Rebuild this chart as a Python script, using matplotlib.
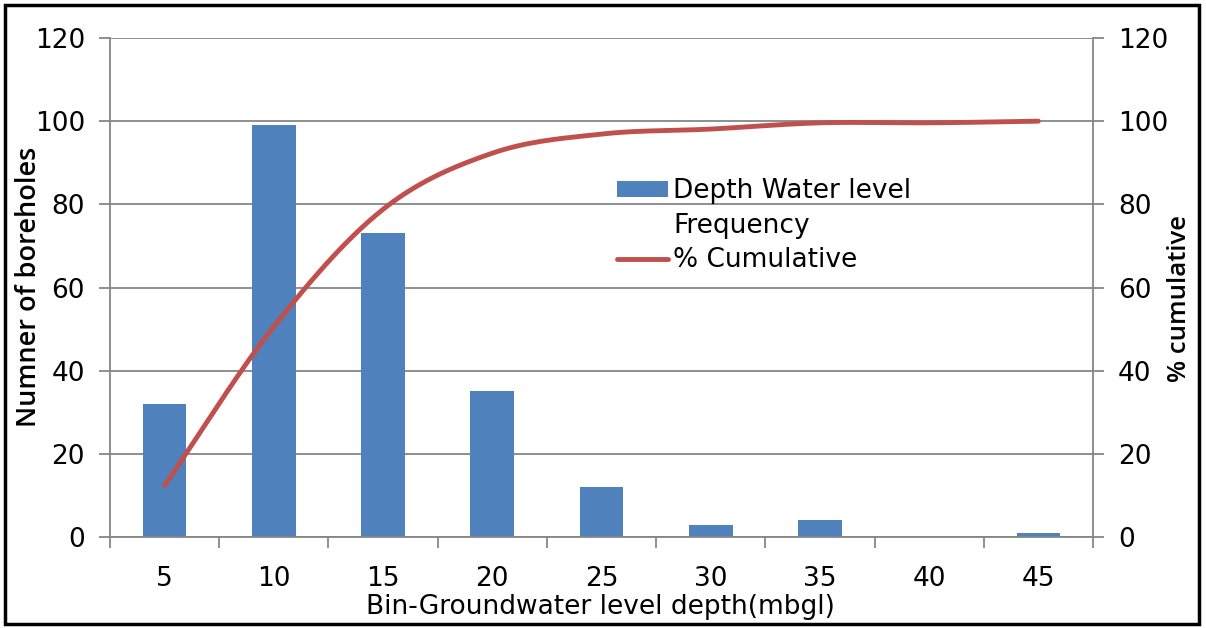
import numpy as np
import matplotlib.pyplot as plt
from matplotlib.patches import Rectangle, Patch
from matplotlib.lines import Line2D

# data
bins = ['5', '10', '15', '20', '25', '30', '35', '40', '45']
frequency = [32, 99, 73, 35, 12, 3, 4, 0, 1]
cumulative = [12.4, 50.6, 78.8, 92.3, 96.9, 98.1, 99.6, 99.6, 100.0]

bar_color = '#4F81BD'
line_color = '#C0504D'
grid_color = '#868686'


def smooth_curve(x, y, n=30):
    # catmull-rom style smoothing through every point
    x = np.asarray(x, float)
    y = np.asarray(y, float)
    px = np.concatenate([[2 * x[0] - x[1]], x, [2 * x[-1] - x[-2]]])
    py = np.concatenate([[2 * y[0] - y[1]], y, [2 * y[-1] - y[-2]]])
    xs, ys = [], []
    for i in range(1, len(px) - 2):
        t = np.linspace(0, 1, n, endpoint=False)
        for p, out in ((px, xs), (py, ys)):
            p0, p1, p2, p3 = p[i - 1], p[i], p[i + 1], p[i + 2]
            out.extend(0.5 * ((2 * p1) + (-p0 + p2) * t
                              + (2 * p0 - 5 * p1 + 4 * p2 - p3) * t ** 2
                              + (-p0 + 3 * p1 - 3 * p2 + p3) * t ** 3))
    xs.append(x[-1])
    ys.append(y[-1])
    return np.array(xs), np.array(ys)


plt.rcParams['font.family'] = ['DejaVu Sans']

W, H = 1206, 628
fig = plt.figure(figsize=(W / 100, H / 100), dpi=100)
ax = fig.add_axes([110 / W, 1 - 537 / H, (1093 - 110) / W, (537 - 38) / H])

pos = np.arange(len(bins))
ax.bar(pos, frequency, width=0.4, color=bar_color, zorder=2)
ax.set_xlim(-0.5, len(bins) - 0.5)
ax.set_ylim(0, 120)
ax.set_yticks(np.arange(0, 121, 20))
ax.yaxis.grid(True, color=grid_color, linewidth=1.3)
ax.set_axisbelow(True)

ax.set_xticks(pos)
ax.set_xticklabels(bins, fontsize=19)
ax.set_xticks(np.arange(-0.5, len(bins), 1), minor=True)
ax.tick_params(axis='x', which='major', length=0, pad=21)
ax.tick_params(axis='x', which='minor', length=8, width=1.3, color=grid_color)
ax.tick_params(axis='y', labelsize=19, length=8, width=1.3, color=grid_color, pad=10)

for side in ['top', 'right']:
    ax.spines[side].set_visible(False)
for side in ['left', 'bottom']:
    ax.spines[side].set_color(grid_color)
    ax.spines[side].set_linewidth(1.3)

ax2 = ax.twinx()
ax2.set_ylim(0, 120)
ax2.set_yticks(np.arange(0, 121, 20))
ax2.tick_params(axis='y', labelsize=19, length=8, width=1.3, color=grid_color, pad=10)
for side in ['top', 'left', 'bottom']:
    ax2.spines[side].set_visible(False)
ax2.spines['right'].set_color(grid_color)
ax2.spines['right'].set_linewidth(1.3)

sx, sy = smooth_curve(pos, cumulative)
ax2.plot(sx, sy, color=line_color, linewidth=3.5, solid_capstyle='round', zorder=3)

# axis titles
fig.text(29 / W, 1 - 287 / H, 'Numner of boreholes', rotation=90, ha='center', va='center',
         fontsize=19.5, family='Open Sans', weight='semibold')
fig.text(1179 / W, 1 - 298 / H, '% cumulative', rotation=90, ha='center', va='center',
         fontsize=18.5, family='Open Sans', weight='semibold')
fig.text(600 / W, 1 - 607 / H, 'Bin-Groundwater level depth(mbgl)', ha='center', va='center',
         fontsize=19)

handles = [Patch(facecolor=bar_color, edgecolor='none'),
           Patch(facecolor='none', edgecolor='none'),
           Line2D([0], [0], color=line_color, linewidth=3.5, solid_capstyle='round')]
ax2.legend(handles, ['Depth Water level', 'Frequency', '% Cumulative'],
           loc='upper left', bbox_to_anchor=(617 / W, 1 - 178 / H),
           bbox_transform=fig.transFigure,
           frameon=False, fontsize=19, handlelength=1.93, handleheight=0.55,
           handletextpad=0.2, labelspacing=0.33, borderpad=0, borderaxespad=0)

# outer frame
fig.patches.append(Rectangle((5 / W, 4 / H), 1194 / W, 619 / H,
                             transform=fig.transFigure, fill=False,
                             edgecolor='black', linewidth=2.5))

fig.savefig('out.png', dpi=100)
